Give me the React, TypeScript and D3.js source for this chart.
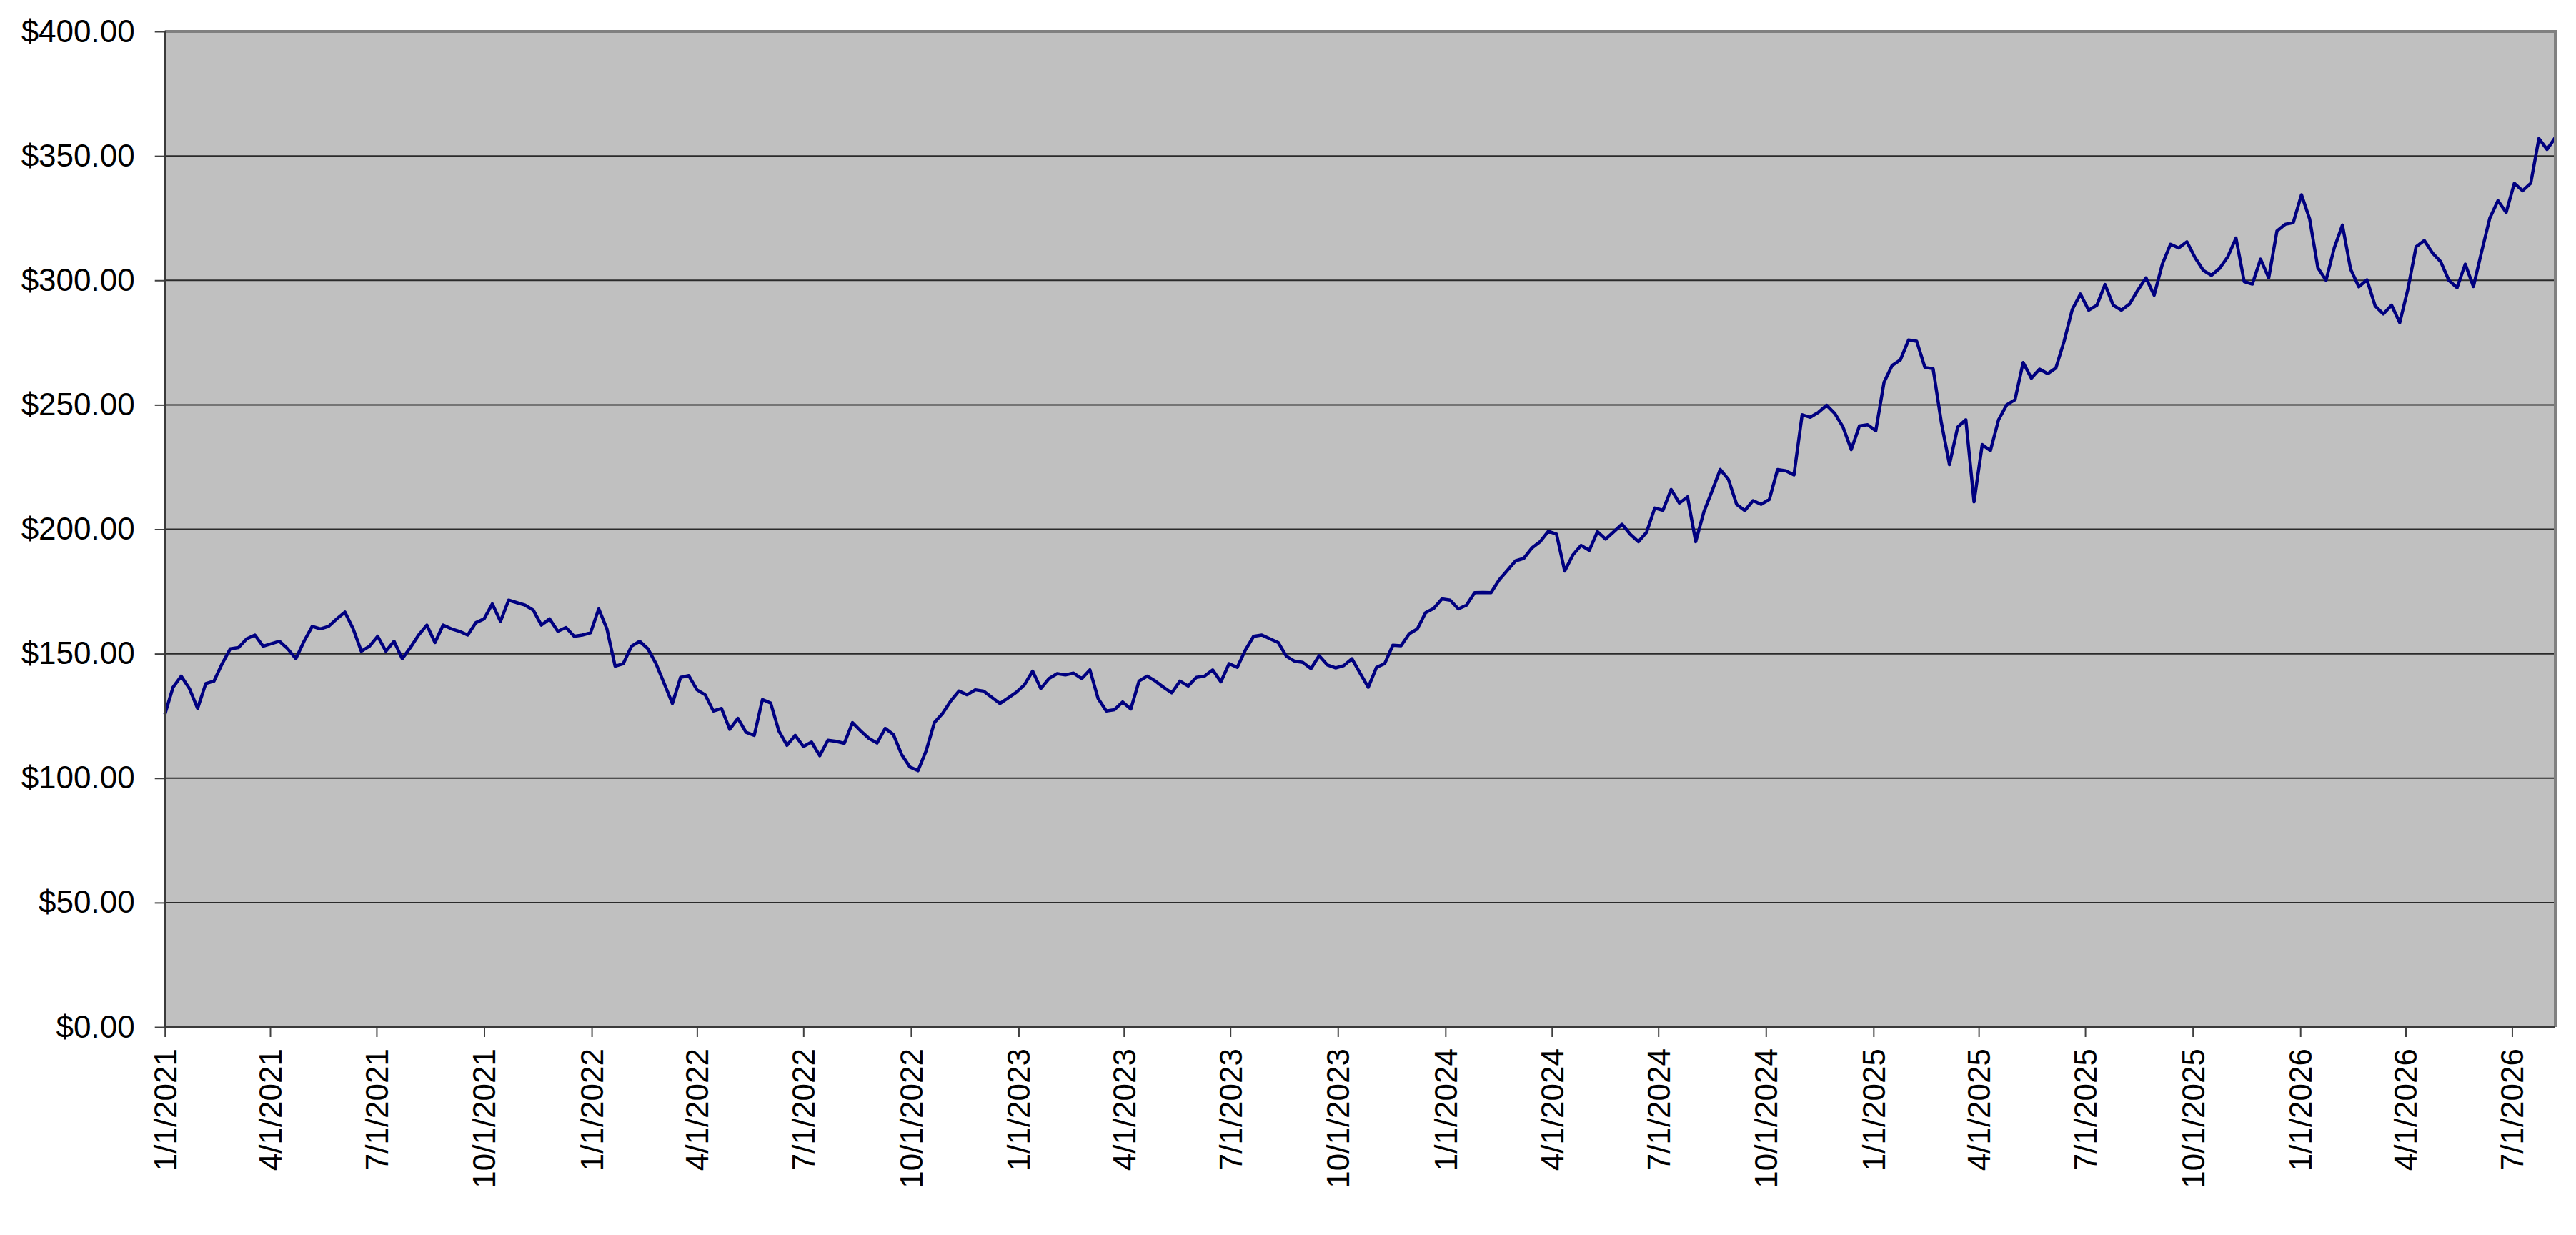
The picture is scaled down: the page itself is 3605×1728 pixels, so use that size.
import React, { useEffect, useRef } from 'react';
import * as d3 from 'd3';

interface IPoint {
  date: Date;
  value: number;
}

// weekly closing prices, one value per week starting 1/1/2021
const startDate = new Date(2021, 0, 1);
const endDate = new Date(2026, 7, 7);

const prices2021 = [
  125.6, 136.5, 141, 136, 128, 138, 139, 146, 152, 152.5,
  156, 157.5, 153, 154, 155, 152, 148, 155, 161, 160,
  161, 164, 166.7, 160, 151, 153, 157, 151, 155, 148,
  152.5, 157.5, 161.5, 154.5, 161.5, 160, 159, 157.5, 162.5, 164,
  170, 163, 171.5, 170.5, 169.5, 167.5, 161.5, 164, 159, 160.5,
  157, 157.5, 158.4,
];
const prices2022 = [
  168, 160, 145, 146, 153, 155, 152, 146, 138, 130,
  140.5, 141.2, 135.5, 133.5, 127, 128, 119.6, 124, 118.4, 117.2,
  131.6, 130.2, 119, 113.2, 117.2, 112.7, 114.5, 109, 115.2, 114.8,
  114, 122.3, 119, 116, 114.1, 120, 117.5, 109.5, 104.5, 103,
  111, 122.3, 126, 131, 135, 133.5, 135.5, 135, 132.5, 130,
  132.2, 134.5,
];
const prices2023 = [
  137.5, 143, 136, 140, 142, 141.5, 142.2, 140, 143.5, 132,
  127, 127.5, 130.6, 127.8, 139, 141, 139, 136.5, 134.3, 139,
  137, 140.5, 141, 143.5, 138.7, 146, 144.5, 151.5, 157, 157.5,
  156, 154.5, 149, 147, 146.5, 144, 149.2, 145.5, 144.3, 145.2,
  148, 142.2, 136.5, 144.5, 146, 153.4, 153.2, 158, 160, 166.5,
  168.2, 172,
];
const prices2024 = [
  171.5, 168, 169.5, 174.5, 174.6, 174.5, 179.7, 183.5, 187.3, 188.3,
  192.5, 195, 199.2, 198, 183.2, 189.7, 193.5, 191.5, 199, 196,
  199, 202, 198, 195, 198.8, 208.5, 207.6, 216, 210.5, 213,
  195, 207, 215.4, 224, 220, 210, 207.5, 211.5, 210, 212,
  224, 223.5, 221.8, 246, 245, 247, 249.8, 246.5, 241, 232,
  241.5, 242,
];
const prices2025 = [
  239.6, 259, 265.8, 268, 276, 275.5, 265, 264.5, 243, 226,
  241, 244, 211, 234, 231.6, 244, 250, 252, 267, 260.7,
  264.3, 262.5, 264.8, 275.5, 288.3, 294.5, 288, 290, 298.3, 290,
  288, 290.5, 296, 301, 294, 306.5, 314.5, 313, 315.5, 309.1,
  304, 302, 304.8, 309.5, 317, 299.5, 298.5, 308.5, 301, 319.8,
  322.5, 323.2,
];
const prices2026 = [
  334.4, 324.6, 305, 300, 313, 322.2, 304.5, 297.4, 300.2, 289.7,
  286.5, 290, 283, 296.5, 313.5, 316, 311, 307.5, 300, 297,
  306.5, 297.5, 311.5, 325, 332, 327.3, 339, 336, 339, 357,
  352.6, 357.4,
];

const yTicks = [0, 50, 100, 150, 200, 250, 300, 350, 400];

const xTickLabels = [
  '1/1/2021', '4/1/2021', '7/1/2021', '10/1/2021',
  '1/1/2022', '4/1/2022', '7/1/2022', '10/1/2022',
  '1/1/2023', '4/1/2023', '7/1/2023', '10/1/2023',
  '1/1/2024', '4/1/2024', '7/1/2024', '10/1/2024',
  '1/1/2025', '4/1/2025', '7/1/2025', '10/1/2025',
  '1/1/2026', '4/1/2026', '7/1/2026',
];

const FONT = "'Liberation Sans', Arial, sans-serif";

const PriceChart: React.FC = () => {
  const containerRef = useRef<HTMLDivElement>(null);

  useEffect(() => {
    if (containerRef && containerRef.current) {
      containerRef.current.innerHTML = '';
      drawChart(containerRef.current);
    }
  }, [containerRef]);

  return <div ref={containerRef} style={{ position: 'absolute', left: 0, top: 0 }}></div>;
};

const drawChart = (container: HTMLDivElement) => {
  const totalWidth = 3605;
  const totalHeight = 1728;
  const margin = { top: 44, left: 230.7, right: 29, bottom: 291 };
  const width = totalWidth - margin.left - margin.right;
  const height = totalHeight - margin.top - margin.bottom;

  const prices = [...prices2021, ...prices2022, ...prices2023, ...prices2024, ...prices2025, ...prices2026];
  const data: IPoint[] = prices.map((value, i) => ({ date: d3.timeDay.offset(startDate, i * 7), value }));

  const parseDate = d3.timeParse('%m/%d/%Y');
  const tickDates = xTickLabels.map((s) => parseDate(s) as Date);

  const svg = d3
    .select(container)
    .append('svg')
    .attr('width', totalWidth)
    .attr('height', totalHeight)
    .style('display', 'block')
    .append('g')
    .attr('transform', `translate(${margin.left}, ${margin.top})`);

  const xScale = d3.scaleTime().domain([startDate, endDate]).range([0, width]);
  const yScale = d3.scaleLinear().domain([0, 400]).range([height, 0]);

  // plot area
  svg.append('rect').attr('width', width).attr('height', height).attr('fill', '#c0c0c0');

  svg
    .selectAll('.grid')
    .data(yTicks.filter((t) => t > 0 && t < 400))
    .enter()
    .append('line')
    .attr('x1', 0)
    .attr('x2', width)
    .attr('y1', (d) => yScale(d))
    .attr('y2', (d) => yScale(d))
    .attr('stroke', '#2a2a2a')
    .attr('stroke-width', 2);

  const line = d3
    .line<IPoint>()
    .x((d) => xScale(d.date))
    .y((d) => yScale(d.value));

  svg
    .append('path')
    .datum(data)
    .attr('d', line)
    .attr('fill', 'none')
    .attr('stroke', '#000080')
    .attr('stroke-width', 4.5)
    .attr('stroke-linejoin', 'round');

  // top and right frame
  svg
    .append('path')
    .attr('d', `M0,0H${width}V${height}`)
    .attr('fill', 'none')
    .attr('stroke', '#808080')
    .attr('stroke-width', 4);

  const yAxisG = svg.append('g');
  yAxisG.call(
    d3
      .axisLeft(yScale)
      .tickValues(yTicks)
      .tickSize(14)
      .tickPadding(28)
      .tickFormat((d) => d3.format('$,.2f')(d as number))
  );

  const xAxisG = svg.append('g').attr('transform', `translate(0, ${height})`);
  xAxisG.call(
    d3
      .axisBottom(xScale)
      .tickValues(tickDates)
      .tickSize(14)
      .tickFormat((_, i) => xTickLabels[i])
  );

  svg.selectAll('.domain').remove();
  svg.selectAll('.tick line').attr('stroke', '#404040').attr('stroke-width', 2);
  svg
    .selectAll('.tick text')
    .attr('fill', '#000')
    .style('font-family', FONT)
    .style('font-size', '44px');

  xAxisG
    .selectAll('.tick text')
    .attr('transform', 'rotate(-90)')
    .attr('x', -30)
    .attr('y', 0)
    .attr('dy', '0.35em')
    .style('text-anchor', 'end');

  // left and bottom axis lines
  svg
    .append('path')
    .attr('d', `M0,0V${height}H${width}`)
    .attr('fill', 'none')
    .attr('stroke', '#3a3a3a')
    .attr('stroke-width', 3);
};

export default function App() {
  return <PriceChart />;
}
